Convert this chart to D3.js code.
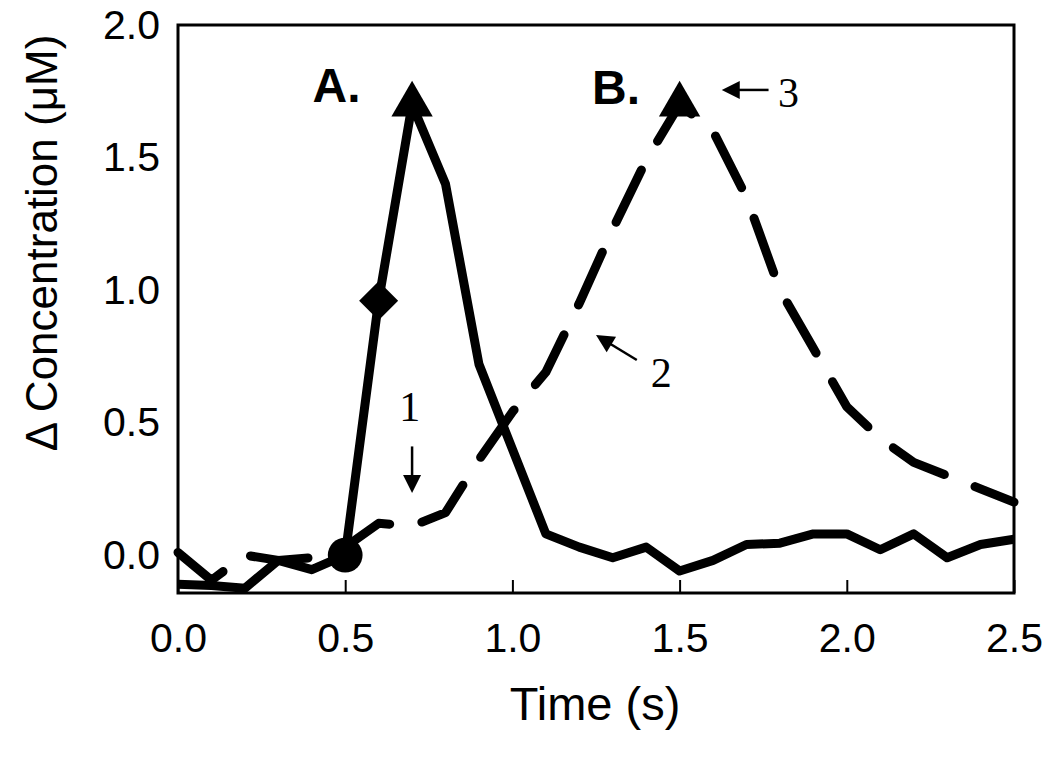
<!DOCTYPE html>
<html>
<head>
<meta charset="utf-8">
<script src="https://cdn.jsdelivr.net/npm/d3@7"></script>
<style>
    body { margin: 0; background: #fff; }
    svg { display: block; font-family: 'Liberation Sans', Arial, sans-serif; }
</style>
</head>
<body>
<script>
const [W, H] = [1050, 765];
const PADDING = { left: 178, top: 25, right: 36, bottom: 172 };

// time points (s)
const TIME = [0.0, 0.1, 0.2, 0.3, 0.4, 0.5, 0.6, 0.7, 0.8, 0.9, 1.0, 1.1, 1.2,
    1.3, 1.4, 1.5, 1.6, 1.7, 1.8, 1.9, 2.0, 2.1, 2.2, 2.3, 2.4, 2.5];
// trace A (solid)
const CONC_A = [-0.11, -0.115, -0.125, -0.02, -0.055, 0.0, 0.96, 1.70, 1.40, 0.72, 0.40, 0.08, 0.03,
    -0.01, 0.03, -0.06, -0.02, 0.04, 0.045, 0.08, 0.08, 0.02, 0.08, -0.01, 0.04, 0.06];
// trace B (dashed)
const CONC_B = [0.01, -0.095, 0.0, -0.02, -0.01, 0.03, 0.12, 0.11, 0.16, 0.36, 0.54, 0.69, 0.95,
    1.23, 1.49, 1.70, 1.60, 1.35, 1.0, 0.78, 0.56, 0.44, 0.35, 0.30, 0.25, 0.20];

const X_TICKS = [0, 0.5, 1.0, 1.5, 2.0, 2.5];
const Y_TICKS = [0, 0.5, 1.0, 1.5, 2.0];

// markers: [series, index in TIME, shape]
const MARKERS = [['A', 5, 'circle'], ['A', 6, 'diamond'], ['A', 7, 'triangle'], ['B', 15, 'triangle']];

// panel letters [text, t, conc]
const LETTERS = [['A.', 0.474, 1.774], ['B.', 1.31, 1.766]];
// numbered arrows [text, label t, label conc, tail t, tail conc, tip t, tip conc]
const ARROWS = [
    ['1', 0.693, 0.56, 0.70, 0.41, 0.70, 0.234],
    ['2', 1.445, 0.69, 1.372, 0.736, 1.25, 0.83],
    ['3', 1.826, 1.747, 1.766, 1.755, 1.626, 1.755]
];

const svg = d3.select('body').append('svg').attr('width', W).attr('height', H);

const xScale = d3.scaleLinear().domain([0, 2.5]).range([PADDING.left, W - PADDING.right]);
const yScale = d3.scaleLinear().domain([-0.143, 2.0]).range([H - PADDING.bottom, PADDING.top]);

// frame
svg.append('rect')
    .attr('x', xScale(0)).attr('y', yScale(2.0))
    .attr('width', xScale(2.5) - xScale(0))
    .attr('height', yScale(-0.143) - yScale(2.0))
    .attr('fill', 'none').attr('stroke', '#000').attr('stroke-width', 3);

// x axis, ticks pointing inside
const xAxis = d3.axisBottom(xScale)
    .tickValues(X_TICKS)
    .tickSize(-13)
    .tickSizeOuter(0)
    .tickPadding(30)
    .tickFormat(d3.format('.1f'));

const gx = svg.append('g')
    .attr('transform', 'translate(0,' + yScale(-0.143) + ')')
    .call(xAxis);
gx.select('.domain').remove();
gx.selectAll('line').attr('stroke-width', 2);
gx.selectAll('text').style('font-size', '41px').attr('fill', '#000');

const yAxis = d3.axisLeft(yScale)
    .tickValues(Y_TICKS)
    .tickSize(0)
    .tickPadding(18)
    .tickFormat(d3.format('.1f'));

const gy = svg.append('g')
    .attr('transform', 'translate(' + xScale(0) + ',0)')
    .call(yAxis);
gy.select('.domain').remove();
gy.selectAll('text').style('font-size', '41px').attr('fill', '#000');

// axis titles
svg.append('text')
    .attr('x', 595).attr('y', 720)
    .style('text-anchor', 'middle')
    .style('font-size', '47px')
    .text('Time (s)');

svg.append('text')
    .attr('transform', 'translate(57,243) rotate(-90)')
    .style('text-anchor', 'middle')
    .style('font-size', '44px')
    .text('\u0394 Concentration (\u03bcM)');

// traces
const line = d3.line()
    .x(d => xScale(d[0]))
    .y(d => yScale(d[1]));

const seriesA = TIME.map((t, i) => [t, CONC_A[i]]);
const seriesB = TIME.map((t, i) => [t, CONC_B[i]]);

svg.append('path')
    .datum(seriesB)
    .attr('d', line)
    .attr('fill', 'none')
    .attr('stroke', '#000')
    .attr('stroke-width', 9)
    .attr('stroke-linecap', 'round')
    .attr('stroke-linejoin', 'round')
    .attr('stroke-dasharray', '58,33');

svg.append('path')
    .datum(seriesA)
    .attr('d', line)
    .attr('fill', 'none')
    .attr('stroke', '#000')
    .attr('stroke-width', 9)
    .attr('stroke-linejoin', 'round');

// markers
const SHAPES = {
    circle: d3.symbol(d3.symbolCircle, 950),
    diamond: d3.symbol(d3.symbolSquare, 760),
    triangle: d3.symbol(d3.symbolTriangle, 740)
};
svg.selectAll('.marker')
    .data(MARKERS)
    .enter()
    .append('path')
    .attr('class', 'marker')
    .attr('d', d => SHAPES[d[2]]())
    .attr('transform', d => {
        const v = d[0] === 'A' ? CONC_A[d[1]] : CONC_B[d[1]];
        return 'translate(' + xScale(TIME[d[1]]) + ',' + yScale(v) + ')' + (d[2] === 'diamond' ? ' rotate(45)' : '');
    })
    .attr('fill', '#000');

// panel letters
svg.selectAll('.letter')
    .data(LETTERS)
    .enter()
    .append('text')
    .attr('class', 'letter')
    .attr('x', d => xScale(d[1]))
    .attr('y', d => yScale(d[2]))
    .attr('dy', '0.35em')
    .style('text-anchor', 'middle')
    .style('font-size', '48px')
    .style('font-weight', 'bold')
    .text(d => d[0]);

// numbered arrows
const arrows = svg.selectAll('.arrow')
    .data(ARROWS)
    .enter()
    .append('g')
    .attr('class', 'arrow');

arrows.append('text')
    .attr('x', d => xScale(d[1]))
    .attr('y', d => yScale(d[2]))
    .attr('dy', '0.35em')
    .style('text-anchor', 'middle')
    .style('font-family', "'Liberation Serif', 'Times New Roman', serif")
    .style('font-size', '42px')
    .text(d => d[0]);

const HEAD = { len: 18, half: 9 };
arrows.append('line')
    .attr('x1', d => xScale(d[3]))
    .attr('y1', d => yScale(d[4]))
    .attr('x2', d => {
        const [x1, y1, x2, y2] = [xScale(d[3]), yScale(d[4]), xScale(d[5]), yScale(d[6])];
        const l = Math.hypot(x2 - x1, y2 - y1);
        return x2 - (x2 - x1) / l * (HEAD.len - 2);
    })
    .attr('y2', d => {
        const [x1, y1, x2, y2] = [xScale(d[3]), yScale(d[4]), xScale(d[5]), yScale(d[6])];
        const l = Math.hypot(x2 - x1, y2 - y1);
        return y2 - (y2 - y1) / l * (HEAD.len - 2);
    })
    .attr('stroke', '#000')
    .attr('stroke-width', 2.5);

arrows.append('path')
    .attr('d', d => {
        const [x1, y1, x2, y2] = [xScale(d[3]), yScale(d[4]), xScale(d[5]), yScale(d[6])];
        const l = Math.hypot(x2 - x1, y2 - y1);
        const [ux, uy] = [(x2 - x1) / l, (y2 - y1) / l];
        const [bx, by] = [x2 - ux * HEAD.len, y2 - uy * HEAD.len];
        return 'M' + x2 + ',' + y2 +
            'L' + (bx - uy * HEAD.half) + ',' + (by + ux * HEAD.half) +
            'L' + (bx + uy * HEAD.half) + ',' + (by - ux * HEAD.half) + 'Z';
    })
    .attr('fill', '#000');
</script>
</body>
</html>
